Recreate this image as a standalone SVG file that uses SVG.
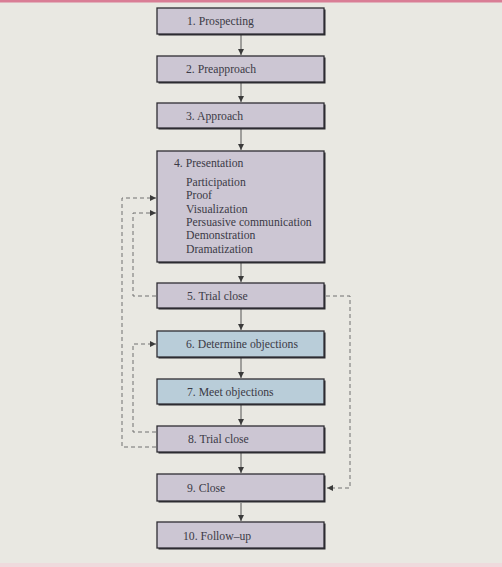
<svg xmlns="http://www.w3.org/2000/svg" width="502" height="567" viewBox="0 0 502 567">
<defs>
<style>
.box{fill:#ccc6d3;stroke:#2e2d33;stroke-width:1.3}
.blue{fill:#b9cdd9;stroke:#2e2d33;stroke-width:1.3}
.sh{fill:#2a292e}
.t{font-family:"Liberation Serif","Times New Roman",serif;font-size:11.7px;fill:#3b3a46}
.c{stroke:#555;stroke-width:1;fill:none}
.d{stroke:#707070;stroke-width:1;fill:none;stroke-dasharray:4 3}
</style>
<marker id="ah" viewBox="0 0 8 8" refX="8" refY="4" markerWidth="6" markerHeight="6" orient="auto" markerUnits="userSpaceOnUse">
<path d="M0,0 L8,4 L0,8 z" fill="#3a3a3a"/>
</marker>
</defs>
<rect width="502" height="567" fill="#e9e8e2"/>
<rect width="502" height="2.5" fill="#d97d95"/>
<rect y="563" width="502" height="4" fill="#efdadd"/>

<g id="connectors">
<line class="c" x1="241" y1="34" x2="241" y2="55" marker-end="url(#ah)"/>
<line class="c" x1="241" y1="83" x2="241" y2="102" marker-end="url(#ah)"/>
<line class="c" x1="241" y1="129" x2="241" y2="150" marker-end="url(#ah)"/>
<line class="c" x1="241" y1="263" x2="241" y2="282" marker-end="url(#ah)"/>
<line class="c" x1="241" y1="309" x2="241" y2="330" marker-end="url(#ah)"/>
<line class="c" x1="241" y1="358" x2="241" y2="378" marker-end="url(#ah)"/>
<line class="c" x1="241" y1="405" x2="241" y2="425" marker-end="url(#ah)"/>
<line class="c" x1="241" y1="453" x2="241" y2="473" marker-end="url(#ah)"/>
<line class="c" x1="241" y1="503" x2="241" y2="521" marker-end="url(#ah)"/>
<polyline class="d" points="156,447 122,447 122,198 156,198" marker-end="url(#ah)"/>
<polyline class="d" points="156,296 133,296 133,213 156,213" marker-end="url(#ah)"/>
<polyline class="d" points="156,432 133,432 133,344 156,344" marker-end="url(#ah)"/>
<polyline class="d" points="326,296 350,296 350,488 327,488" marker-end="url(#ah)"/>
</g>

<g id="n1"><rect class="sh" x="158.5" y="9.5" width="167" height="26"/><rect class="box" x="157" y="8" width="167" height="26"/><text class="t" x="187" y="25">1. Prospecting</text></g>
<g id="n2"><rect class="sh" x="158.5" y="57.5" width="167" height="26"/><rect class="box" x="157" y="56" width="167" height="26"/><text class="t" x="186" y="73">2. Preapproach</text></g>
<g id="n3"><rect class="sh" x="158.5" y="104.5" width="167" height="25"/><rect class="box" x="157" y="103" width="167" height="25"/><text class="t" x="186" y="120">3. Approach</text></g>
<g id="n4"><rect class="sh" x="158.5" y="152.5" width="167" height="111"/><rect class="box" x="157" y="151" width="167" height="111"/>
<text class="t" x="174" y="167">4. Presentation</text>
<text class="t" x="186" y="186">Participation</text>
<text class="t" x="186" y="199">Proof</text>
<text class="t" x="186" y="212.5">Visualization</text>
<text class="t" x="186" y="226">Persuasive communication</text>
<text class="t" x="186" y="239">Demonstration</text>
<text class="t" x="186" y="252.5">Dramatization</text>
</g>
<g id="n5"><rect class="sh" x="158.5" y="284.5" width="167" height="25"/><rect class="box" x="157" y="283" width="167" height="25"/><text class="t" x="187" y="300">5. Trial close</text></g>
<g id="n6"><rect class="sh" x="158.5" y="332.5" width="167" height="26"/><rect class="blue" x="157" y="331" width="167" height="26"/><text class="t" x="186" y="348">6. Determine objections</text></g>
<g id="n7"><rect class="sh" x="158.5" y="380.5" width="167" height="25"/><rect class="blue" x="157" y="379" width="167" height="25"/><text class="t" x="187" y="396">7. Meet objections</text></g>
<g id="n8"><rect class="sh" x="158.5" y="427.5" width="167" height="26"/><rect class="box" x="157" y="426" width="167" height="26"/><text class="t" x="188" y="443">8. Trial close</text></g>
<g id="n9"><rect class="sh" x="158.5" y="475.5" width="167" height="27"/><rect class="box" x="157" y="474" width="167" height="27"/><text class="t" x="187" y="492">9. Close</text></g>
<g id="n10"><rect class="sh" x="158.5" y="523.5" width="167" height="26"/><rect class="box" x="157" y="522" width="167" height="26"/><text class="t" x="183" y="540">10. Follow–up</text></g>
</svg>
